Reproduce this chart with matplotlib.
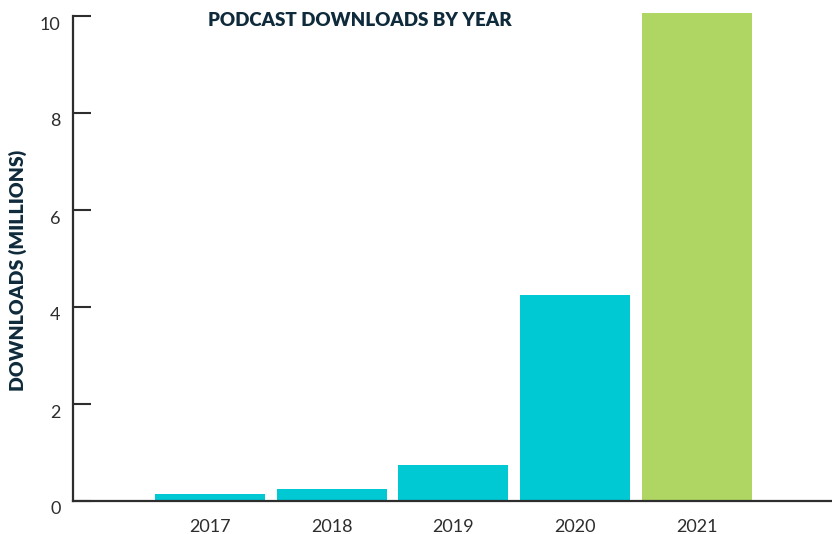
import matplotlib
matplotlib.use("Agg")
import matplotlib.pyplot as plt
from matplotlib.transforms import ScaledTranslation

years = ["2017", "2018", "2019", "2020", "2021"]
downloads = [0.14, 0.25, 0.74, 4.25, 10.06]
colors = ["#00c9d3", "#00c9d3", "#00c9d3", "#00c9d3", "#afd563"]
yticks = [0, 2, 4, 6, 8, 10]

plt.rcParams['font.family'] = ['Lato', 'DejaVu Sans']

W, H = 832, 534
fig = plt.figure(figsize=(W / 100, H / 100), dpi=100)
ax = fig.add_axes([73 / W, 1 - 501 / H, 1 - 73 / W, (501 - 16) / H])

x = list(range(len(years)))
ax.bar(x, downloads, width=0.904, color=colors, clip_on=False, zorder=1)

ax.set_xlim(-1.126, 5.11)
ax.set_ylim(0, 10)
ax.set_yticks(yticks)
ax.set_xticks(x)
ax.set_xticklabels(years)

for s in ["top", "right"]:
    ax.spines[s].set_visible(False)
for s in ["left", "bottom"]:
    ax.spines[s].set_color("#2d2d2d")
    ax.spines[s].set_linewidth(1.6)
    ax.spines[s].set_zorder(3)

ax.tick_params(axis="y", direction="in", length=13, width=1.5, color="#2d2d2d",
               labelsize=13, labelcolor="#2d2d2d", pad=9)
ax.tick_params(axis="x", length=0, labelsize=13, labelcolor="#2d2d2d", pad=13)

off = ScaledTranslation(0, -7 / 100, fig.dpi_scale_trans)
for lab in ax.get_yticklabels():
    lab.set_transform(lab.get_transform() + off)

fig.text(360 / W, 1 - 20 / H, "PODCAST DOWNLOADS BY YEAR", ha="center", va="center",
         fontsize=13.5, fontweight="heavy", color="#0e2a3b")
fig.text(18 / W, 1 - 270 / H, "DOWNLOADS (MILLIONS)", ha="center", va="center",
         rotation=90, fontsize=14, fontweight="heavy", color="#0e2a3b")

fig.savefig("out.png", dpi=100)
